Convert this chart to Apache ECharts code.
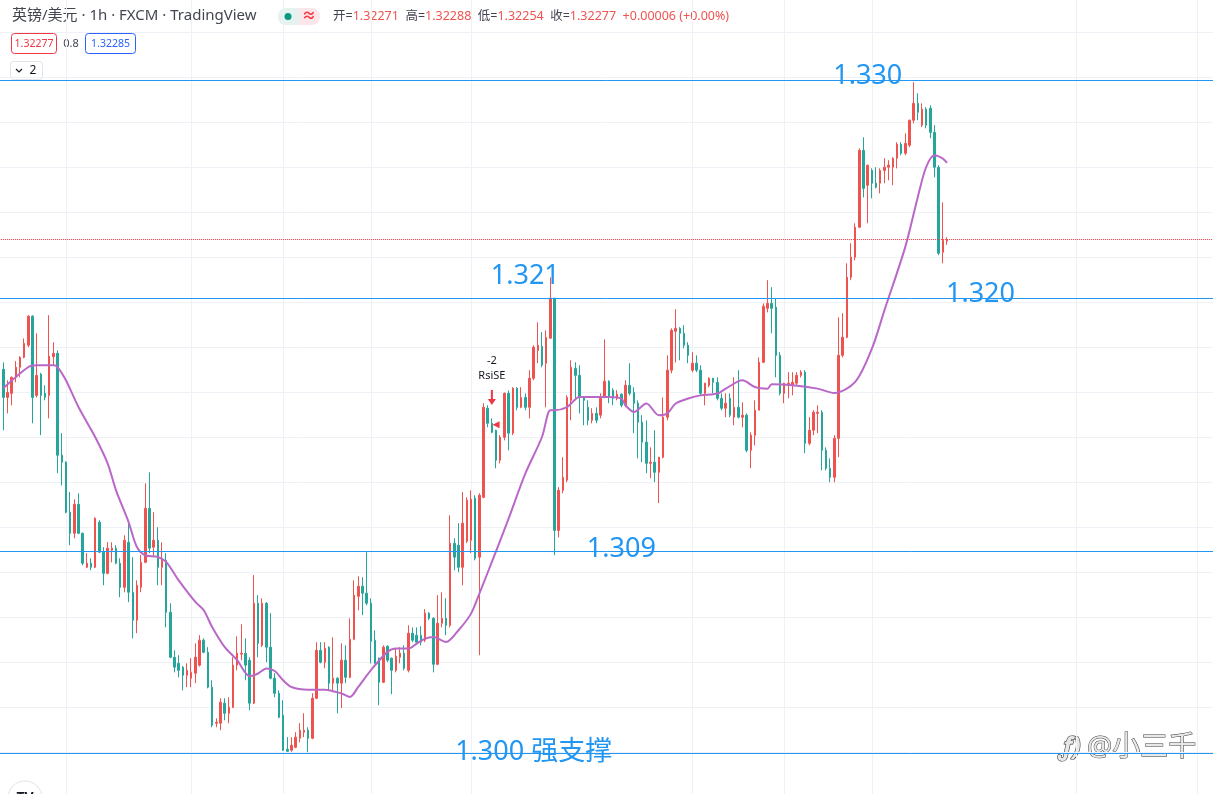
<!DOCTYPE html>
<html>
<head>
<meta charset="utf-8">
<title>英镑/美元 1h</title>
<script src="https://cdn.jsdelivr.net/npm/echarts/dist/echarts.min.js"></script>
<style>
  html, body { margin: 0; padding: 0; background: #fff; overflow: hidden; width: 1213px; height: 794px; }
  /* the plot pane runs a little past the window edges, as in the screenshot */
  #chart { position: absolute; left: -1px; top: -13px; width: 1216px; height: 810px; }
</style>
</head>
<body>
<div id="chart"></div>
<script>
// GBP/USD 1h candles, [open, close, low, high]
const ohlc = [
  [1.31701,1.31576,1.31430,1.31732],[1.31576,1.31598,1.31505,1.31652],[1.31594,1.31665,1.31541,1.31670],[1.31665,1.31710,1.31643,1.31737],
  [1.31710,1.31754,1.31665,1.31759],[1.31754,1.31816,1.31750,1.31838],[1.31808,1.31937,1.31799,1.31941],[1.31937,1.31576,1.31461,1.31941],
  [1.31585,1.31674,1.31576,1.31861],[1.31679,1.31585,1.31408,1.31685],[1.31594,1.31576,1.31563,1.31630],[1.31585,1.31759,1.31483,1.31941],
  [1.31757,1.31772,1.31719,1.31821],[1.31772,1.31319,1.31239,1.31785],[1.31319,1.31288,1.31185,1.31417],[1.31288,1.31066,1.31061,1.31292],
  [1.31066,1.30972,1.30919,1.31155],[1.30972,1.31101,1.30950,1.31123],[1.31101,1.30972,1.30968,1.31150],[1.30972,1.30839,1.30830,1.30975],
  [1.30821,1.30839,1.30817,1.30884],[1.30839,1.30821,1.30808,1.30861],[1.30821,1.31039,1.30817,1.31043],[1.31021,1.30888,1.30884,1.31030],
  [1.30888,1.30794,1.30741,1.30910],[1.30794,1.30906,1.30790,1.30932],[1.30897,1.30906,1.30843,1.30932],[1.30906,1.30839,1.30835,1.30919],
  [1.30839,1.30732,1.30688,1.30861],[1.30732,1.30941,1.30710,1.30963],[1.30932,1.30710,1.30666,1.31021],[1.30710,1.30586,1.30505,1.30866],
  [1.30586,1.30741,1.30528,1.30763],[1.30732,1.30843,1.30710,1.30875],[1.30843,1.31083,1.30839,1.31194],[1.31083,1.30906,1.30884,1.31243],
  [1.30910,1.30941,1.30866,1.31066],[1.30941,1.30821,1.30741,1.30999],[1.30821,1.30852,1.30741,1.30932],[1.30852,1.30621,1.30554,1.30884],
  [1.30621,1.30421,1.30417,1.30661],[1.30421,1.30377,1.30354,1.30452],[1.30394,1.30363,1.30332,1.30430],[1.30377,1.30341,1.30274,1.30381],
  [1.30341,1.30363,1.30288,1.30394],[1.30328,1.30354,1.30288,1.30417],[1.30350,1.30421,1.30306,1.30483],[1.30386,1.30497,1.30380,1.30519],
  [1.30497,1.30443,1.30439,1.30505],[1.30443,1.30288,1.30283,1.30466],[1.30288,1.30119,1.30110,1.30319],[1.30128,1.30132,1.30110,1.30150],
  [1.30128,1.30221,1.30097,1.30239],[1.30217,1.30172,1.30141,1.30239],[1.30172,1.30199,1.30128,1.30243],[1.30199,1.30386,1.30195,1.30421],
  [1.30386,1.30439,1.30363,1.30514],[1.30435,1.30439,1.30408,1.30568],[1.30439,1.30386,1.30319,1.30505],[1.30408,1.30217,1.30186,1.30421],
  [1.30217,1.30661,1.30213,1.30786],[1.30661,1.30483,1.30421,1.30697],[1.30474,1.30661,1.30466,1.30683],[1.30661,1.30466,1.30399,1.30666],
  [1.30466,1.30328,1.30323,1.30617],[1.30328,1.30261,1.30243,1.30350],[1.30261,1.30154,1.30150,1.30274],[1.30163,1.30008,1.30004,1.30230],
  [1.30012,1.30003,1.30001,1.30066],[1.30008,1.30030,1.30001,1.30066],[1.30021,1.30066,1.30017,1.30088],[1.30061,1.30097,1.30043,1.30128],
  [1.30088,1.30097,1.30066,1.30172],[1.30097,1.30061,1.29999,1.30110],[1.30061,1.30239,1.30057,1.30261],[1.30239,1.30452,1.30235,1.30488],
  [1.30452,1.30399,1.30394,1.30488],[1.30399,1.30461,1.30372,1.30488],[1.30466,1.30306,1.30274,1.30470],[1.30306,1.30328,1.30266,1.30510],
  [1.30328,1.30306,1.30172,1.30332],[1.30306,1.30408,1.30195,1.30483],[1.30408,1.30332,1.30306,1.30474],[1.30332,1.30501,1.30328,1.30594],
  [1.30501,1.30697,1.30497,1.30763],[1.30692,1.30737,1.30630,1.30781],[1.30737,1.30706,1.30608,1.30777],[1.30706,1.30661,1.30652,1.30888],
  [1.30661,1.30492,1.30394,1.30683],[1.30497,1.30394,1.30392,1.30541],[1.30417,1.30310,1.30208,1.30420],[1.30310,1.30466,1.30306,1.30474],
  [1.30470,1.30408,1.30399,1.30474],[1.30417,1.30363,1.30257,1.30420],[1.30363,1.30426,1.30354,1.30461],[1.30421,1.30439,1.30394,1.30466],
  [1.30439,1.30372,1.30363,1.30474],[1.30363,1.30528,1.30354,1.30563],[1.30528,1.30497,1.30488,1.30554],[1.30519,1.30488,1.30483,1.30554],
  [1.30519,1.30488,1.30474,1.30559],[1.30497,1.30617,1.30488,1.30635],[1.30617,1.30594,1.30586,1.30621],[1.30594,1.30390,1.30354,1.30599],
  [1.30390,1.30572,1.30386,1.30697],[1.30572,1.30594,1.30554,1.30710],[1.30594,1.30563,1.30519,1.30683],[1.30563,1.30928,1.30554,1.31052],
  [1.30928,1.30866,1.30808,1.30950],[1.30919,1.30821,1.30799,1.31017],[1.30821,1.31017,1.30741,1.31155],[1.30937,1.31119,1.30928,1.31132],
  [1.30941,1.31123,1.30884,1.31163],[1.31128,1.30861,1.30852,1.31141],[1.30866,1.31141,1.30430,1.31150],[1.31132,1.31532,1.31128,1.31550],
  [1.31528,1.31461,1.31443,1.31541],[1.31461,1.31421,1.31417,1.31483],[1.31430,1.31297,1.31261,1.31432],[1.31297,1.31399,1.31283,1.31408],
  [1.31399,1.31594,1.31385,1.31598],[1.31594,1.31417,1.31341,1.31607],[1.31417,1.31617,1.31408,1.31621],[1.31617,1.31532,1.31519,1.31621],
  [1.31532,1.31576,1.31528,1.31621],[1.31576,1.31532,1.31519,1.31594],[1.31532,1.31661,1.31483,1.31697],[1.31661,1.31799,1.31652,1.31808],
  [1.31785,1.31808,1.31728,1.31910],[1.31803,1.31719,1.31710,1.31866],[1.31728,1.31843,1.31532,1.31874],[1.31839,1.32017,1.31838,1.32110],
  [1.32017,1.30985,1.30875,1.32017],[1.30985,1.31163,1.30954,1.31177],[1.31163,1.31221,1.31150,1.31310],[1.31208,1.31576,1.31199,1.31585],
  [1.31563,1.31710,1.31474,1.31741],[1.31705,1.31674,1.31563,1.31732],[1.31674,1.31576,1.31505,1.31719],[1.31576,1.31563,1.31452,1.31580],
  [1.31532,1.31474,1.31452,1.31563],[1.31474,1.31505,1.31461,1.31528],[1.31505,1.31474,1.31461,1.31532],[1.31497,1.31576,1.31483,1.31594],
  [1.31576,1.31648,1.31572,1.31834],[1.31648,1.31576,1.31550,1.31652],[1.31608,1.31572,1.31541,1.31617],[1.31572,1.31590,1.31563,1.31608],
  [1.31590,1.31541,1.31532,1.31594],[1.31541,1.31630,1.31532,1.31652],[1.31630,1.31594,1.31585,1.31728],[1.31598,1.31550,1.31417,1.31621],
  [1.31550,1.31466,1.31305,1.31563],[1.31466,1.31377,1.31288,1.31497],[1.31377,1.31283,1.31239,1.31474],[1.31283,1.31288,1.31217,1.31354],
  [1.31288,1.31243,1.31199,1.31430],[1.31243,1.31310,1.31106,1.31312],[1.31310,1.31488,1.31305,1.31576],[1.31488,1.31697,1.31474,1.31763],
  [1.31697,1.31874,1.31683,1.31883],[1.31870,1.31883,1.31732,1.31968],[1.31883,1.31861,1.31741,1.31888],[1.31861,1.31808,1.31794,1.31897],
  [1.31808,1.31763,1.31728,1.31821],[1.31697,1.31728,1.31688,1.31777],[1.31728,1.31697,1.31688,1.31763],[1.31697,1.31594,1.31585,1.31719],
  [1.31594,1.31639,1.31541,1.31641],[1.31630,1.31661,1.31621,1.31665],[1.31661,1.31643,1.31594,1.31663],[1.31643,1.31572,1.31563,1.31665],
  [1.31572,1.31528,1.31519,1.31594],[1.31528,1.31550,1.31488,1.31594],[1.31572,1.31497,1.31488,1.31594],[1.31488,1.31532,1.31452,1.31665],
  [1.31532,1.31488,1.31483,1.31697],[1.31488,1.31497,1.31443,1.31554],[1.31497,1.31341,1.31332,1.31505],[1.31341,1.31408,1.31261,1.31421],
  [1.31408,1.31519,1.31363,1.31563],[1.31519,1.31732,1.31519,1.31754],[1.31732,1.31981,1.31728,1.31994],[1.31972,1.31994,1.31954,1.32097],
  [1.31994,1.31972,1.31861,1.32066],[1.31977,1.31763,1.31665,1.32017],[1.31763,1.31594,1.31585,1.31777],[1.31594,1.31639,1.31550,1.31641],
  [1.31630,1.31639,1.31572,1.31688],[1.31630,1.31643,1.31585,1.31688],[1.31639,1.31674,1.31630,1.31688],[1.31674,1.31688,1.31665,1.31697],
  [1.31688,1.31372,1.31328,1.31697],[1.31372,1.31430,1.31363,1.31488],[1.31430,1.31510,1.31408,1.31519],[1.31505,1.31510,1.31417,1.31541],
  [1.31510,1.31341,1.31252,1.31519],[1.31341,1.31261,1.31252,1.31354],[1.31261,1.31221,1.31199,1.31305],[1.31221,1.31394,1.31199,1.31408],
  [1.31394,1.31763,1.31310,1.31932],[1.31763,1.31843,1.31754,1.31950],[1.31843,1.32110,1.31839,1.32172],[1.32110,1.32199,1.32097,1.32261],
  [1.32199,1.32332,1.32185,1.32350],[1.32332,1.32674,1.32332,1.32683],[1.32674,1.32505,1.32465,1.32732],[1.32519,1.32608,1.32350,1.32610],
  [1.32585,1.32528,1.32461,1.32594],[1.32528,1.32510,1.32505,1.32599],[1.32528,1.32585,1.32483,1.32594],[1.32585,1.32599,1.32528,1.32639],
  [1.32599,1.32608,1.32541,1.32630],[1.32599,1.32639,1.32519,1.32643],[1.32639,1.32701,1.32594,1.32710],[1.32701,1.32661,1.32652,1.32710],
  [1.32661,1.32705,1.32652,1.32750],[1.32697,1.32808,1.32688,1.32810],[1.32808,1.32883,1.32794,1.32977],[1.32883,1.32843,1.32808,1.32928],
  [1.32786,1.32857,1.32777,1.32883],[1.32857,1.32786,1.32772,1.32866],[1.32861,1.32754,1.32728,1.32874],[1.32754,1.32599,1.32554,1.32786],
  [1.32599,1.32217,1.32208,1.32608],[1.32221,1.32274,1.32172,1.32443],[1.32271,1.32277,1.32254,1.32288]
];

// moving average read at some bars (bar index, value)
const maIdx = [0,6,8,10,12,13,15,18,22,25,27,30,32,34,37,39,42,46,48,50,53,56,59,61,63,65,67,69,73,75,
  77,81,83,85,88,92,94,97,99,101,103,106,109,112,114,117,121,125,129,131,132,135,138,140,144,145,148,149,151,154,
  157,159,161,164,167,171,173,177,180,183,184,189,195,199,204,208,211,216,219,221,223,225,226];
const maVal = [1.31617,1.31711,1.31719,1.31719,1.31719,1.31711,1.31652,1.31533,1.31400,1.31282,
  1.31163,1.31022,1.30911,1.30874,1.30867,1.30845,1.30763,1.30667,1.30630,1.30556,
  1.30467,1.30408,1.30337,1.30349,1.30371,1.30360,1.30319,1.30289,1.30277,1.30277,
  1.30277,1.30260,1.30245,1.30289,1.30363,1.30445,1.30460,1.30460,1.30482,1.30504,
  1.30511,1.30489,1.30541,1.30615,1.30704,1.30845,1.31037,1.31237,1.31400,1.31519,
  1.31519,1.31533,1.31578,1.31578,1.31578,1.31578,1.31571,1.31541,1.31511,1.31549,
  1.31497,1.31504,1.31549,1.31571,1.31585,1.31593,1.31615,1.31652,1.31622,1.31615,
  1.31634,1.31630,1.31615,1.31596,1.31645,1.31793,1.31963,1.32245,1.32467,1.32600,
  1.32652,1.32637,1.32618];

// drawn horizontal levels and their captions
const levels = [1.32984, 1.32016, 1.30891, 1.29993];
const levelText = ['1.330', '1.321', '1.320', '1.309', '1.300 强支撑'];
const levelTextBar = [207, 125, 234, 148, 127];
const levelTextPrice = [1.33003, 1.32114, 1.32034, 1.30901, 1.29999];

const lastPrice = 1.32277;
const legendVals = ['1.32271', '1.32288', '1.32254', '1.32277', '+0.00006 (+0.00%)'];
const vGridBars = [15, 45, 67, 88, 112, 165, 187, 208, 257, 286];

const FONT = '"Noto Sans", "Noto Sans CJK SC", sans-serif';
const UP = '#ef5350', DOWN = '#26a69a', BLUE = '#2196f3';

// one empty slot before the first bar, empty slots to the right edge
const PAD_L = 1, TOTAL = 292;
const cats = [];
for (let i = 0; i < TOTAL; i++) cats.push(String(i));
const candleData = cats.map((c, i) => {
  const k = i - PAD_L;
  return (k >= 0 && k < ohlc.length) ? ohlc[k] : '-';
});
const maData = cats.map(() => null);
maIdx.forEach((b, k) => { maData[b + PAD_L] = maVal[k]; });

const chart = echarts.init(document.getElementById('chart'), null, { renderer: 'canvas' });

const markPoints = levelText.map((t, k) => ({
  coord: [levelTextBar[k] + PAD_L, levelTextPrice[k]],
  symbol: 'circle', symbolSize: 0,
  label: {
    show: true, position: 'inside', formatter: t,
    fontSize: 27, color: BLUE, fontFamily: FONT
  }
}));
// RsiSE signal
markPoints.push({
  coord: [117 + PAD_L, 1.31705], symbol: 'circle', symbolSize: 0,
  label: { show: true, position: 'inside', formatter: '-2\nRsiSE', fontSize: 11, lineHeight: 15, color: '#131722', fontFamily: FONT }
});
markPoints.push({
  coord: [117 + PAD_L, 1.31576], symbol: 'path://M3,0 L5,0 L5,9 L8,9 L4,15 L0,9 L3,9 Z',
  symbolSize: [8, 15], itemStyle: { color: '#f23645' }, label: { show: false }
});
markPoints.push({
  coord: [118 + PAD_L, 1.31454], symbol: 'triangle', symbolRotate: 90,
  symbolSize: 7, itemStyle: { color: '#f23645' }, label: { show: false }
});

// page coordinates for the overlay (the chart div sits at -1,-13)
const OX = 1, OY = 13;
const mid = { textVerticalAlign: 'middle', verticalAlign: 'middle' };
const ctr = { textAlign: 'center', align: 'center', textVerticalAlign: 'middle', verticalAlign: 'middle' };

const option = {
  animation: false,
  backgroundColor: '#ffffff',
  textStyle: { fontFamily: FONT },
  grid: { left: 0.12, right: 0.68, top: 0, bottom: 0 },
  xAxis: {
    type: 'category', data: cats, boundaryGap: false,
    axisLine: { show: false }, axisTick: { show: false }, axisLabel: { show: false },
    splitLine: {
      show: true,
      interval: (idx) => vGridBars.indexOf(idx - PAD_L) >= 0,
      lineStyle: { color: '#eef1f6', width: 1 }
    }
  },
  yAxis: {
    type: 'value', min: 1.298, max: 1.334, interval: 0.002, scale: true,
    axisLine: { show: false }, axisTick: { show: false }, axisLabel: { show: false },
    splitLine: { show: true, lineStyle: { color: '#eef1f6', width: 1 } }
  },
  series: [
    {
      type: 'candlestick',
      data: candleData,
      barWidth: 2,
      silent: true,
      itemStyle: {
        color: UP, color0: DOWN, borderColor: UP, borderColor0: DOWN, borderWidth: 1
      },
      markLine: {
        silent: true, symbol: ['none', 'none'], label: { show: false },
        precision: 5,
        lineStyle: { color: BLUE, width: 1, type: 'solid' },
        data: levels.map(v => ({ yAxis: v }))
          .concat([{ yAxis: lastPrice, lineStyle: { color: '#f23645', width: 1, type: 'dotted' } }])
      },
      markPoint: { silent: true, data: markPoints }
    },
    {
      type: 'line',
      data: maData,
      connectNulls: true,
      smooth: 0.3,
      symbol: 'none',
      silent: true,
      lineStyle: { color: '#ba68c8', width: 2 }
    }
  ],
  graphic: [{
    type: 'group', x: OX, y: OY, children: [
      { type: 'text', x: 12, y: 16, style: Object.assign({ text: '英镑/美元 · 1h · FXCM · TradingView', font: '15px ' + FONT, fill: '#434651' }, mid) },
      { type: 'rect', shape: { x: 278, y: 8, width: 21, height: 17, r: [8, 0, 0, 8] }, style: { fill: '#e4f3f0' } },
      { type: 'rect', shape: { x: 299, y: 8, width: 21, height: 17, r: [0, 8, 8, 0] }, style: { fill: '#fde6e9' } },
      { type: 'circle', shape: { cx: 288, cy: 16.5, r: 3.5 }, style: { fill: '#089981' } },
      { type: 'text', x: 309, y: 16, style: Object.assign({ text: '≈', font: 'bold 14px ' + FONT, fill: '#f23645' }, ctr) },
      { type: 'text', x: 333, y: 16, style: Object.assign({
          text: '{l|开=}{v|' + legendVals[0] + '}  {l|高=}{v|' + legendVals[1] + '}  {l|低=}{v|' + legendVals[2] + '}  {l|收=}{v|' + legendVals[3] + '}  {v|' + legendVals[4] + '}',
          font: '12.5px ' + FONT,
          rich: {
            l: { fill: '#434651', fontSize: 12.5, fontFamily: FONT },
            v: { fill: '#ef5350', fontSize: 12.5, fontFamily: FONT }
          }
        }, mid) },
      { type: 'rect', shape: { x: 11.5, y: 33.5, width: 45, height: 20, r: 3 }, style: { fill: '#fff', stroke: '#f23645', lineWidth: 1 } },
      { type: 'text', x: 34, y: 44, style: Object.assign({ text: '1.32277', font: '10.5px ' + FONT, fill: '#f23645' }, ctr) },
      { type: 'text', x: 71, y: 44, style: Object.assign({ text: '0.8', font: '11px ' + FONT, fill: '#434651' }, ctr) },
      { type: 'rect', shape: { x: 85.5, y: 33.5, width: 50, height: 20, r: 3 }, style: { fill: '#fff', stroke: '#2962ff', lineWidth: 1 } },
      { type: 'text', x: 110.5, y: 44, style: Object.assign({ text: '1.32285', font: '10.5px ' + FONT, fill: '#2962ff' }, ctr) },
      { type: 'rect', shape: { x: 10.5, y: 61.5, width: 32, height: 18, r: 3 }, style: { fill: '#fff', stroke: '#e0e3eb', lineWidth: 1 } },
      { type: 'polyline', shape: { points: [[16, 69], [19, 72], [22, 69]] }, style: { stroke: '#131722', lineWidth: 1.2, fill: null } },
      { type: 'text', x: 33, y: 71, style: Object.assign({ text: '2', font: '12px ' + FONT, fill: '#131722' }, ctr) },
      { type: 'circle', shape: { cx: 25, cy: 798, r: 17 }, style: { fill: '#fff', stroke: '#e0e3eb', lineWidth: 1 } },
      { type: 'text', x: 25, y: 798, style: Object.assign({ text: 'TV', font: 'bold 14px ' + FONT, fill: '#131722' }, ctr) },
      { type: 'text', x: 1060, y: 748, style: Object.assign({ text: 'ƒ)', font: 'italic bold 25px ' + FONT, fill: '#e8e8e8', stroke: '#3a3a3a', lineWidth: 1.2 }, mid) },
      { type: 'text', x: 1087, y: 748, style: Object.assign({ text: '@小三千', font: '28px ' + FONT, fill: '#e8e8e8', stroke: '#3a3a3a', lineWidth: 1 }, mid) }
    ]
  }]
};

chart.setOption(option);
window.onresize = function () { chart.resize(); };
</script>
</body>
</html>
